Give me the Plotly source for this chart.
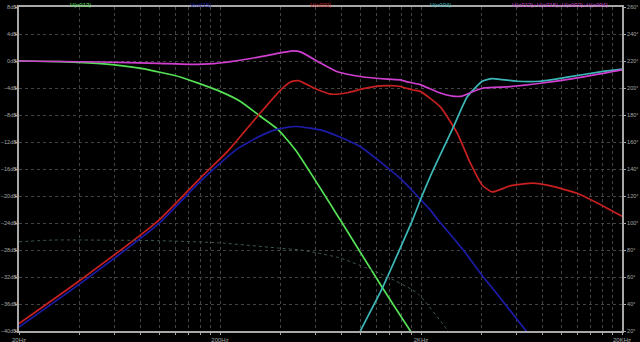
import plotly.graph_objects as go

# ---- data (frequency in Hz, level in dB, phase in degrees) ----
f_n013 = [20, 32, 51, 81, 128, 200, 253, 311, 387, 475, 795, 1286, 1771, 2100]
v_n013 = [0.0, -0.1, -0.4, -1.1, -2.4, -4.5, -6.0, -8.0, -10.1, -13.2, -23.6, -33.6, -40.0, -43.5]

f_n015 = [20, 40.6, 99, 160, 239, 308, 387, 475, 632, 795, 999, 1578, 2226, 2439, 3246, 4084, 4957, 6672, 7500]
v_n015 = [-39.4, -32.9, -24.1, -17.8, -13.2, -11.3, -10.1, -9.7, -10.2, -11.3, -12.7, -17.4, -22.1, -23.6, -28.0, -32.0, -35.1, -40.0, -41.8]

f_n003 = [20, 40.6, 99, 160, 221, 311, 400, 449, 492, 585, 709, 861, 1035, 1257, 1526, 1833, 1985, 2496, 3031, 3517, 4037, 4521, 5559, 7227, 8487, 11970, 16870, 20000]
v_n003 = [-38.9, -32.4, -23.6, -17.3, -13.2, -8.0, -4.3, -3.1, -2.9, -4.0, -4.9, -4.7, -4.1, -3.7, -3.7, -4.3, -4.5, -6.8, -10.7, -15.1, -18.4, -19.4, -18.5, -18.1, -18.4, -19.6, -21.8, -23.0]

f_n004 = [900, 999, 1286, 1812, 1985, 2303, 2897, 3398, 4037, 4521, 6020, 7832, 10670, 15560, 20000]
v_n004 = [-43.0, -40.0, -33.6, -23.6, -20.6, -16.1, -9.8, -5.3, -3.0, -2.6, -3.0, -3.0, -2.4, -1.6, -1.2]

f_sum = [20, 51, 98, 140, 186, 275, 400, 459, 503, 632, 768, 999, 1362, 1578, 1710, 1985, 2411, 2864, 3208, 3517, 4084, 5559, 7832, 11430, 20000]
v_sum = [0.0, -0.15, -0.35, -0.5, -0.4, 0.3, 1.2, 1.5, 1.35, -0.3, -1.6, -2.3, -2.7, -2.8, -3.1, -3.5, -4.6, -5.2, -5.2, -4.7, -4.0, -3.8, -3.3, -2.6, -1.3]

f_phase = [20, 29.8, 98, 194.6, 386.7, 503, 611, 795, 1300, 1919, 2704, 2950]
p_phase = [86.1, 87.4, 86.9, 85.4, 81.5, 80.0, 77.8, 74.0, 61.5, 48.0, 20.7, 12.0]

names = ["V(n013)", "V(n015)", "V(n003)", "V(n004)", "V(n013)+V(n015)+V(n003)+V(n004)"]
colors = ["#55e055", "#1c1ca8", "#c82020", "#3cb8b8", "#d040d0"]

x_grid = [20, 40, 60, 80, 100, 120, 140, 160, 180, 200,
          400, 600, 800, 1000, 1200, 1400, 1600, 1800, 2000,
          4000, 6000, 8000, 10000, 12000, 14000, 16000, 18000, 20000]
x_labels = {20: "20Hz", 200: "200Hz", 2000: "2KHz", 20000: "20KHz"}

# ---- figure ----
fig = go.Figure()

fig.add_trace(go.Scatter(x=f_phase, y=p_phase, yaxis="y2", mode="lines",
                         line=dict(color="#3e5858", width=1, dash="dot", shape="spline", smoothing=0.5),
                         showlegend=False, hoverinfo="skip"))

series = [(f_n013, v_n013), (f_n015, v_n015), (f_n003, v_n003), (f_n004, v_n004), (f_sum, v_sum)]
for (fx, vy), nm, c in zip(series, names, colors):
    fig.add_trace(go.Scatter(x=fx, y=vy, mode="lines", name=nm,
                             line=dict(color=c, width=1.7, shape="spline", smoothing=0.5),
                             showlegend=False))

axis_col = "#a8a8a8"
grid_col = "#444444"
fam = "Liberation Sans Narrow, Liberation Sans, Arial"
font = dict(family=fam, size=6, color=axis_col)
yfont = dict(family=fam, size=5.5, color=axis_col)

fig.update_layout(
    width=640, height=342,
    margin=dict(l=19, r=18, t=7, b=11),
    paper_bgcolor="black", plot_bgcolor="black",
    font=font,
    xaxis=dict(type="log", range=[1.30103, 4.30103], automargin=False,
               tickvals=x_grid, ticktext=[x_labels.get(v, "") for v in x_grid],
               showgrid=True, gridcolor=grid_col, griddash="dot", gridwidth=1,
               showline=True, linecolor=axis_col, linewidth=2, mirror=True,
               ticks="outside", ticklen=2, tickcolor=axis_col, tickfont=font,
               zeroline=False),
    yaxis=dict(range=[-40, 8], dtick=4, tick0=0, ticksuffix="dB", automargin=False,
               showgrid=True, gridcolor=grid_col, griddash="dot", gridwidth=1,
               showline=True, linecolor=axis_col, linewidth=2,
               ticks="outside", ticklen=2, tickcolor=axis_col, tickfont=yfont,
               ticklabelstandoff=-3, zeroline=False),
    yaxis2=dict(range=[20, 260], dtick=20, tick0=20, ticksuffix="°", automargin=False,
                overlaying="y", side="right", showgrid=False,
                showline=True, linecolor=axis_col, linewidth=2,
                ticks="outside", ticklen=2, tickcolor=axis_col, tickfont=yfont,
                ticklabelstandoff=0, zeroline=False),
)

legend_x = [80, 200, 320, 440, 560]
for nm, c, px in zip(names, colors, legend_x):
    fig.add_annotation(x=(px - 19) / 603, y=1, xref="paper", yref="paper",
                       text=nm, showarrow=False, xanchor="center", yanchor="bottom",
                       yshift=-3, font=dict(family=fam, size=6, color=c))

fig.write_html("out.html")
